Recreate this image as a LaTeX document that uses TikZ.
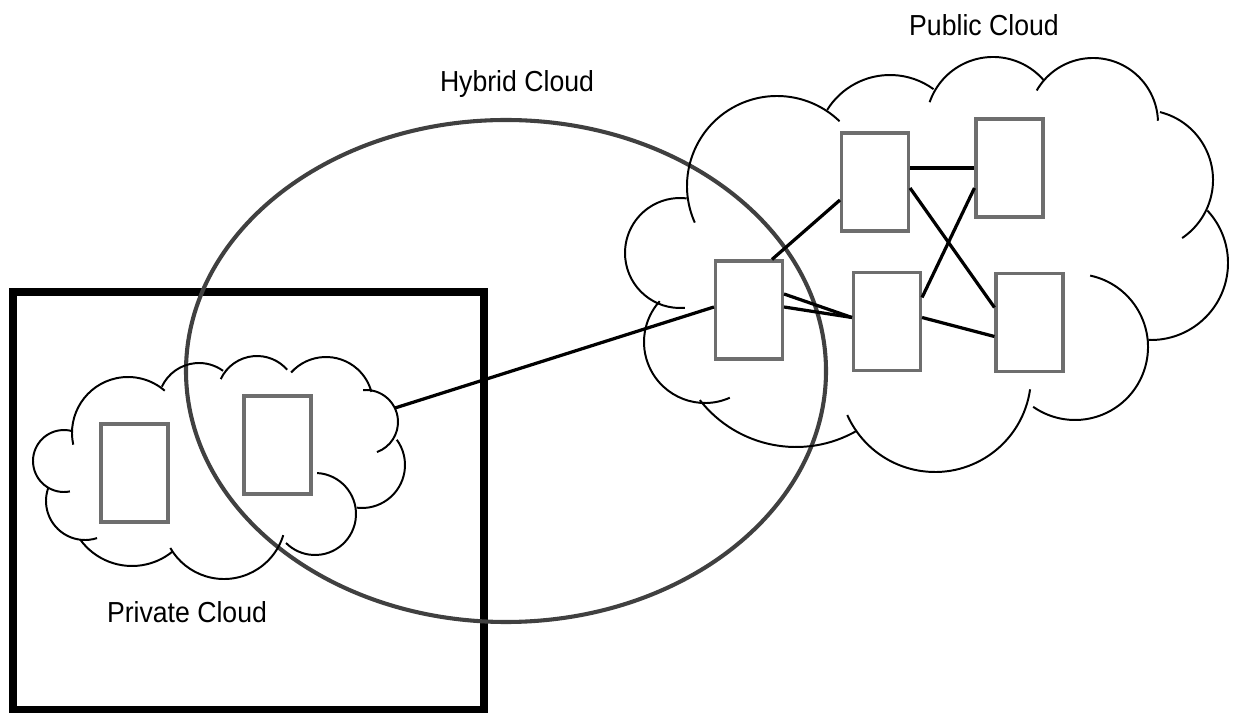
\documentclass[tikz,border=0pt]{standalone}
\usepackage{fontspec}
\setmainfont{Liberation Sans}[FakeStretch=0.92]
\usetikzlibrary{calc}

\begin{document}
\begin{tikzpicture}[
  x=0.25mm, y=-0.25mm,
  font=\fontsize{20.6}{24}\selectfont,
  recinto/.style={draw=black, line width=5pt},
  ibrido/.style={draw=black!75, line width=2.9pt},
  nuvola/.style={draw=black, line width=1.4pt},
  server/.style={draw=black!57, fill=white, line width=2.2pt, inner sep=0pt,
                 minimum width=16.75mm, minimum height=24.5mm},
  legame/.style={draw=black, line width=2.3pt},
  etichetta/.style={anchor=base, inner sep=0pt}
]
\useasboundingbox (0,0) rectangle (1233,713);

% ---- cloud privato (riquadro) ------------------------------------------
\draw[recinto] (13,292) rectangle (484,710);

% ---- cloud ibrido ------------------------------------------------------
\draw[ibrido] (506,371) ellipse [x radius=320, y radius=251];

%==============================================================
% Nuvole (archi: centro x / centro y / raggio / da / a)
%==============================================================
\foreach \cx/\cy/\r/\a/\b in {%
  777/186/90/156/314, 890/149/74/212/306, 993/124/67/199/319,
  1093/123/65/210/358, 1143/180/70/284/416, 1151/263/77/317/452,
  1075/347/73/282/485, 935/376/96/8/156, 796/325/122/60/142,
  705/342/61/66/222, 680/253/55/85/277} {
  \draw[nuvola] (\cx,\cy) ++(\a:\r) arc[start angle=\a, end angle=\b, radius=\r];
}
\foreach \cx/\cy/\r/\a/\b in {%
  128/433/56/168/311, 199/404/41/205/306, 257/396/40/205/319,
  326/404/47/222/345, 366/422/32/265/430, 362/465/43/324/457,
  315/514/41/273/495, 224/517/62/17/150, 132/502/64/51/144,
  85/501/39/72/199, 64/461/31/79/286} {
  \draw[nuvola] (\cx,\cy) ++(\a:\r) arc[start angle=\a, end angle=\b, radius=\r];
}
\coordinate (bordoPriv) at (395,408);

%==============================================================
% Server
%==============================================================
\node[server] (privA) at (134.5,473) {};
\node[server] (privB) at (277.5,445) {};

\node[server] (pubA) at (875,182) {};
\node[server] (pubB) at (1009.5,168) {};
\node[server] (pubC) at (749,310) {};
\node[server] (pubD) at (887,321.5) {};
\node[server] (pubE) at (1029.5,322.5) {};

% ---- collegamenti ------------------------------------------------------
\draw[legame] (bordoPriv) -- ($(pubC.west)+(0,-3)$);
\draw[legame] (pubA.east |- pubB.west) -- (pubB.west);
\draw[legame] ($(pubA.west)+(0,18)$) -- ($(pubC.north)+(23,0)$);
\draw[legame] ($(pubA.east)+(0,6)$) -- ($(pubE.west)+(0,-15)$);
\draw[legame] ($(pubB.west)+(0,20)$) -- ($(pubD.east)+(0,-24)$);
\draw[legame] ($(pubC.east)+(0,-16)$) -- ($(pubD.west)+(0,-4)$);
\draw[legame] ($(pubC.east)+(0,-3)$) -- ($(pubD.west)+(0,-4)$);
\draw[legame] ($(pubD.east)+(0,-4)$) -- ($(pubE.west)+(0,14)$);

% ---- etichette ---------------------------------------------------------
\node[etichetta] (lblPub) at (984,36) {Public Cloud};
\node[etichetta] (lblHyb) at (517,92) {Hybrid Cloud};
\node[etichetta] (lblPriv) at (187,622) {Private Cloud};

\end{tikzpicture}
\end{document}
